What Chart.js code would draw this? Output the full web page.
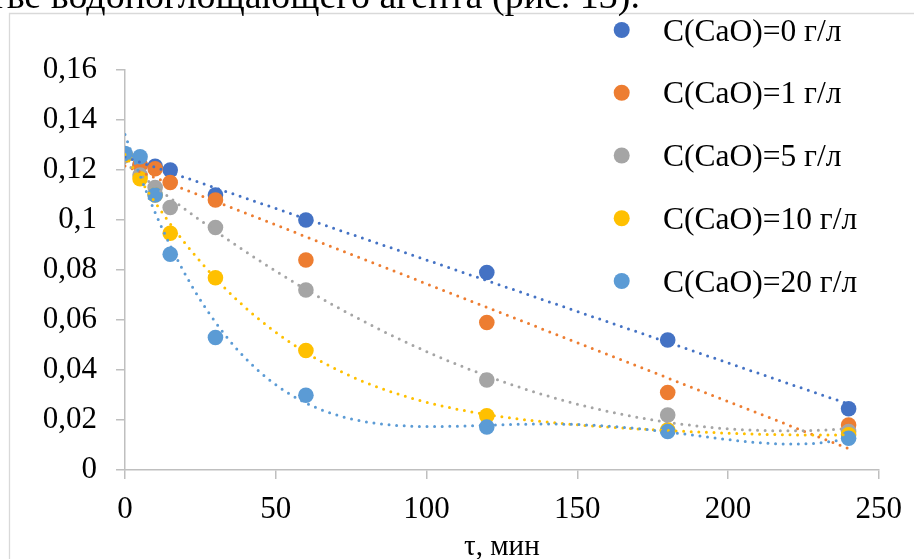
<!DOCTYPE html>
<html>
<head>
<meta charset="utf-8">
<script src="https://cdn.jsdelivr.net/npm/chart.js@4.4.1/dist/chart.umd.min.js"></script>
<style>
  html, body { margin: 0; padding: 0; background: #ffffff; overflow: hidden; }
  #wrap { position: relative; width: 914px; height: 559px; overflow: hidden; }
  #cap { position: absolute; right: 274px; top: -20.3px; white-space: nowrap;
         font-family: "Liberation Serif", "Times New Roman", serif; font-size: 38px;
         line-height: 30px; color: #000; }
  canvas { position: absolute; left: 0; top: 0; }
</style>
</head>
<body>
<div id="wrap">
  <canvas id="c" width="914" height="559"></canvas>
  <div id="cap">в качестве водопоглощающего агента (рис. 13).</div>
</div>
<script>
// ---- data ----
const times = [0, 5, 10, 15, 30, 60, 120, 180, 240];           // τ, мин
const seriesLabels = ['C(CaO)=0 г/л', 'C(CaO)=1 г/л', 'C(CaO)=5 г/л', 'C(CaO)=10 г/л', 'C(CaO)=20 г/л'];
const c0  = [0.126, 0.122, 0.1215, 0.120, 0.110, 0.100, 0.079, 0.052, 0.0245];
const c1  = [0.126, 0.122, 0.1205, 0.115, 0.108, 0.084, 0.059, 0.031, 0.018];
const c5  = [0.126, 0.118, 0.113, 0.105, 0.097, 0.072, 0.036, 0.022, 0.0154];
const c10 = [0.126, 0.1165, 0.110, 0.0947, 0.0769, 0.0478, 0.0217, 0.016, 0.0141];
const c20 = [0.1266, 0.1253, 0.110, 0.0863, 0.053, 0.0299, 0.0172, 0.0154, 0.0127];
const trendOrder = [1, 1, 2, 4, 4];                               // polynomial trendline order
const xTickLabels = ['0', '50', '100', '150', '200', '250'];
const yTickLabels = ['0', '0,02', '0,04', '0,06', '0,08', '0,1', '0,12', '0,14', '0,16'];
const xTitle = 'τ, мин';

const allSeries = [c0, c1, c5, c10, c20];
const colors = ['#4472C4', '#ED7D31', '#A5A5A5', '#FFC000', '#5B9BD5'];

// least-squares polynomial fit (trendline), x scaled to improve conditioning
function polyFit(xs, ys, deg) {
  const s = 240;
  const n = deg + 1;
  const A = Array.from({length: n}, () => new Array(n + 1).fill(0));
  for (let k = 0; k < xs.length; k++) {
    const t = xs[k] / s;
    for (let i = 0; i < n; i++) {
      for (let j = 0; j < n; j++) A[i][j] += Math.pow(t, i + j);
      A[i][n] += Math.pow(t, i) * ys[k];
    }
  }
  for (let i = 0; i < n; i++) {
    let p = i;
    for (let r = i + 1; r < n; r++) if (Math.abs(A[r][i]) > Math.abs(A[p][i])) p = r;
    [A[i], A[p]] = [A[p], A[i]];
    for (let r = 0; r < n; r++) {
      if (r === i) continue;
      const f = A[r][i] / A[i][i];
      for (let c = i; c <= n; c++) A[r][c] -= f * A[i][c];
    }
  }
  const coef = A.map((row, i) => row[n] / row[i]);
  return x => coef.reduce((acc, c, i) => acc + c * Math.pow(x / s, i), 0);
}

const datasets = [];
allSeries.forEach((ys, i) => {
  const f = polyFit(times, ys, trendOrder[i]);
  const pts = [];
  const x0 = times[0], x1 = times[times.length - 1];
  for (let k = 0; k <= 120; k++) { const x = x0 + (x1 - x0) * k / 120; pts.push({x, y: f(x)}); }
  datasets.push({
    type: 'line', label: seriesLabels[i] + ' trend', data: pts, showLine: true,
    borderColor: colors[i], borderWidth: 3, borderDash: [0, 7.6], borderCapStyle: 'round',
    pointRadius: 0, fill: false, tension: 0, order: 4 - i
  });
});
allSeries.forEach((ys, i) => {
  datasets.push({
    type: 'scatter', label: seriesLabels[i],
    data: times.map((t, k) => ({x: t, y: ys[k]})),
    backgroundColor: colors[i], borderColor: colors[i], borderWidth: 0,
    pointRadius: 7.8, pointHoverRadius: 7.8, order: 20 - i
  });
});

const FONT = '"Liberation Serif", "Times New Roman", serif';

const decor = {
  id: 'decor',
  beforeDraw(chart) {
    const ctx = chart.ctx;
    ctx.save();
    ctx.strokeStyle = '#d9d9d9';
    ctx.lineWidth = 1.3;
    ctx.beginPath();
    ctx.moveTo(9.5, 559);
    ctx.lineTo(9.5, 13.5);
    ctx.lineTo(914, 13.5);
    ctx.stroke();
    ctx.restore();
  },
  afterDraw(chart) {
    const ctx = chart.ctx;
    ctx.save();
    ctx.font = '31.5px ' + FONT;
    ctx.textBaseline = 'alphabetic';
    ctx.textAlign = 'left';
    seriesLabels.forEach((lab, i) => {
      const cy = 30 + i * 62.75;
      ctx.fillStyle = colors[i];
      ctx.beginPath();
      ctx.arc(621.7, cy, 8, 0, Math.PI * 2);
      ctx.fill();
      ctx.fillStyle = '#000';
      ctx.fillText(lab, 663, cy + 10.5);
    });
    ctx.restore();
  }
};

new Chart(document.getElementById('c'), {
  data: { datasets },
  options: {
    responsive: false, animation: false,
    layout: { padding: { left: 0, right: 27, top: 70, bottom: 0 } },
    plugins: { legend: { display: false }, tooltip: { enabled: false } },
    scales: {
      x: {
        type: 'linear', min: 0, max: 250,
        ticks: { stepSize: 50, color: '#000', font: { family: FONT, size: 31 }, padding: 12,
                 callback: (v, i) => xTickLabels[i] },
        grid: { display: true, drawOnChartArea: false, drawTicks: true, tickLength: 9, color: '#bfbfbf', lineWidth: 1.5 },
        border: { display: true, color: '#bfbfbf', width: 1.5 },
        title: { display: true, text: xTitle, color: '#000', font: { family: FONT, size: 29 }, padding: { top: 0, bottom: -6 } },
        afterFit: s => { s.height = 89; }
      },
      y: {
        type: 'linear', min: 0, max: 0.16,
        ticks: { stepSize: 0.02, color: '#000', font: { family: FONT, size: 31 }, padding: 19,
                 callback: (v, i) => yTickLabels[i] },
        grid: { display: true, drawOnChartArea: false, drawTicks: true, tickLength: 9, color: '#bfbfbf', lineWidth: 1.5 },
        border: { display: true, color: '#bfbfbf', width: 1.5 },
        afterFit: s => { s.width = 125; }
      }
    }
  },
  plugins: [decor]
});
</script>
</body>
</html>
